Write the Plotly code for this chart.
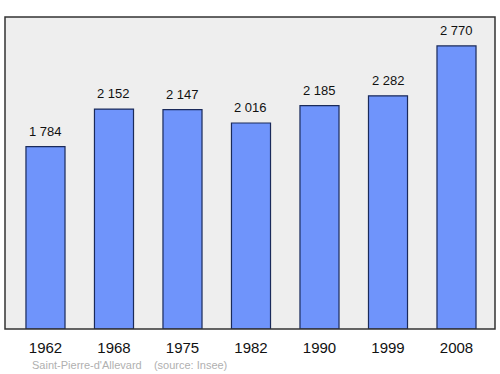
import plotly.graph_objects as go

years = ["1962", "1968", "1975", "1982", "1990", "1999", "2008"]
population = [1784, 2152, 2147, 2016, 2185, 2282, 2770]
labels = ["1 784", "2 152", "2 147", "2 016", "2 185", "2 282", "2 770"]

xs = list(range(len(years)))

fig = go.Figure()
fig.add_trace(go.Bar(
    x=xs, y=population, width=0.57,
    marker=dict(color="#6f94fb", line=dict(color="#1a2a5a", width=1.2)),
    hoverinfo="skip",
))

for x, v, t in zip(xs, population, labels):
    fig.add_annotation(x=x, y=v, text=t, showarrow=False, yanchor="bottom",
                       yshift=6, font=dict(size=13, color="#111111",
                                           family="Liberation Sans, Arial, sans-serif"))

fig.add_annotation(xref="paper", yref="paper", x=(30-5)/490, y=-(365-329)/312,
                   xanchor="left", yanchor="middle", showarrow=False,
                   text="Saint-Pierre-d'Allevard&nbsp;&nbsp;&nbsp;&nbsp;(source: Insee)",
                   font=dict(size=11, color="#b0b0b0",
                             family="Liberation Sans, Arial, sans-serif"))

fig.add_shape(type="rect", xref="paper", yref="paper", x0=0, y0=0, x1=1, y1=1,
              line=dict(color="#333333", width=1.5), fillcolor="rgba(0,0,0,0)")

fig.update_layout(
    width=500, height=374,
    margin=dict(l=5, r=5, t=17, b=45),
    paper_bgcolor="white", plot_bgcolor="#eeeeee",
    showlegend=False,
    font=dict(family="Liberation Sans, Arial, sans-serif"),
    xaxis=dict(range=[-0.591, 6.562], tickvals=xs, ticktext=years,
               showgrid=False, zeroline=False, ticks="outside", ticklen=5,
               tickcolor="rgba(0,0,0,0)",
               tickfont=dict(size=15, color="#111111")),
    yaxis=dict(range=[0, 3053], showgrid=False, zeroline=False,
               showticklabels=False),
)

fig.write_html("out.html")
